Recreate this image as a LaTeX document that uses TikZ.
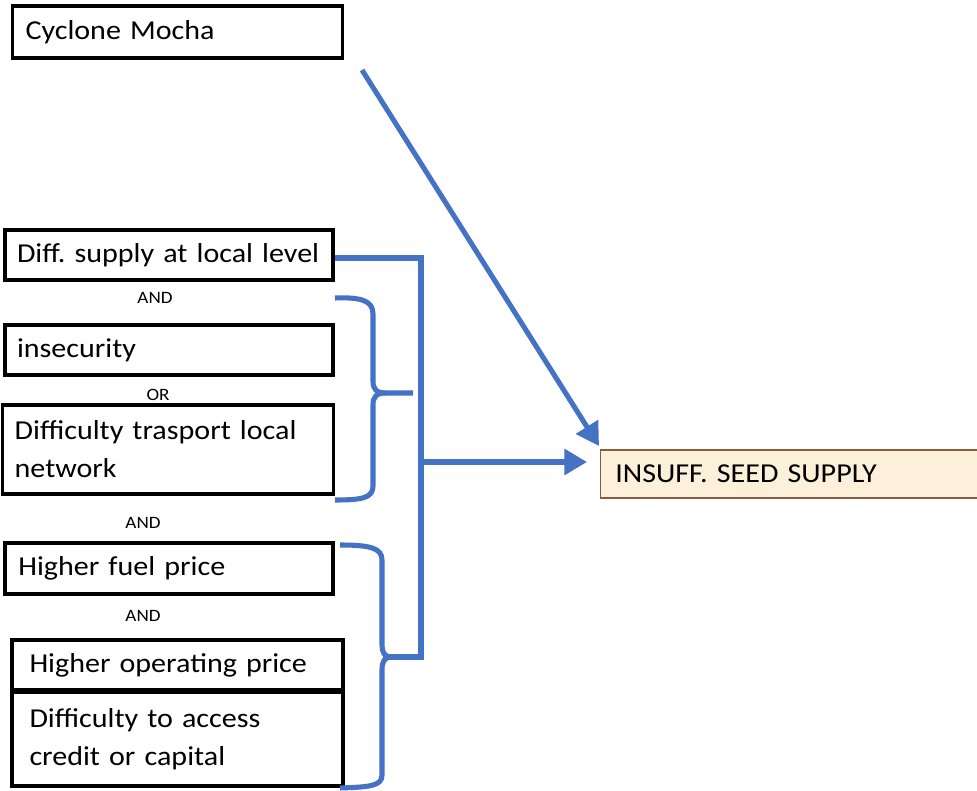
\documentclass[tikz,border=0pt]{standalone}
\usepackage{fontspec}
\setmainfont{Carlito}[FakeStretch=1.1, WordSpace=0.6]
\usetikzlibrary{arrows.meta}
\definecolor{linkblue}{HTML}{4472C4}
\definecolor{resultfill}{HTML}{FDF0DA}
\definecolor{resultdraw}{HTML}{8C5A3C}
\tikzset{
  causebox/.style={draw=black, line width=2.4pt, fill=white, anchor=center,
    align=left, font=\fontsize{20.5}{28.5}\selectfont, inner xsep=9pt, inner ysep=0pt},
  resultbox/.style={draw=resultdraw, line width=1pt, fill=resultfill, anchor=west,
    align=left, font=\fontsize{20.5}{24}\selectfont, inner xsep=9pt, inner ysep=0pt,
    minimum height=36pt},
  logic/.style={font=\fontsize{13}{14}\selectfont, inner sep=0pt},
  link/.style={draw=linkblue, line width=3.8pt},
  linkarrow/.style={link, -{Triangle[length=17pt,width=19pt]}},
}
\begin{document}
\frenchspacing
\begin{tikzpicture}[x=0.75pt,y=-0.75pt]
\useasboundingbox (0,0) rectangle (977,791);
\fill[white] (0,0) rectangle (977,791);

% cause boxes
\node[causebox, minimum width=248pt, minimum height=39pt, text width=228pt] (mocha) at (177.5,32) {Cyclone Mocha};
\node[causebox, minimum width=246pt, minimum height=37.5pt, text width=234pt, inner xsep=6pt] (local) at (169,255) {\hspace{3pt}Diff. supply at local level};
\node[causebox, minimum width=246pt, minimum height=37.5pt, text width=228pt] (insec) at (169,350) {insecurity};
\node[causebox, minimum width=247.5pt, minimum height=66.75pt, text width=230pt] (transp) at (168,449.5) {Difficulty trasport local\\network};
\node[causebox, minimum width=246pt, minimum height=38.25pt, text width=226pt] (fuel) at (169,568.5) {Higher fuel price};
\node[causebox, minimum width=248.25pt, minimum height=37.5pt, text width=222pt] (oper) at (177.5,665) {Higher operating price};
\node[causebox, minimum width=248.25pt, minimum height=70.5pt, text width=222pt] (credit) at (177.5,739) {Difficulty to access\\credit or capital};

% logical connectives
\node[logic] (and1) at (155,298) {AND};
\node[logic] (or1) at (158,395) {OR};
\node[logic] (and2) at (143,523) {AND};
\node[logic] (and3) at (143,616) {AND};

% result
\node[resultbox, minimum width=300pt, text width=278pt, inner xsep=5pt] (seed) at (600,474) {INSUFF. SEED SUPPLY};

% join points
\coordinate (bar top) at (421,258);
\coordinate (bar bot) at (421,657);
\coordinate (bar mid) at (421,462);
\coordinate (arrow end) at (587,462);
\coordinate (upper tip) at (413,393);
\coordinate (lower tip) at (383,657);

% upper brace: insecurity OR transport
\draw[link] (335,298) .. controls (362,297) and (373,301) .. (373,314)
  -- (373,381) .. controls (373,389) and (376,393) .. (386,393) -- (upper tip);
\draw[link] (386,393) .. controls (376,393) and (373,397) .. (373,405)
  -- (373,486) .. controls (373,498) and (362,500) .. (335,500);

% lower brace: fuel, operating, credit
\draw[link] (340,545) .. controls (370,545) and (382,548) .. (382,560)
  -- (382,645) .. controls (382,652) and (384,657) .. (392,657);
\draw[link] (392,657) .. controls (384,657) and (382,662) .. (382,670)
  -- (382,775) .. controls (382,786) and (370,787) .. (340,788);

% collecting bar
\draw[link] (local.east) ++(0,3) -- (bar top) -- (bar bot) -- (lower tip);
\draw[linkarrow] (bar mid) -- (arrow end);

% cyclone arrow
\coordinate (mocha out) at (362,70);
\coordinate (seed corner) at (599,446);
\draw[linkarrow] (mocha out) -- (seed corner);
\end{tikzpicture}
\end{document}
